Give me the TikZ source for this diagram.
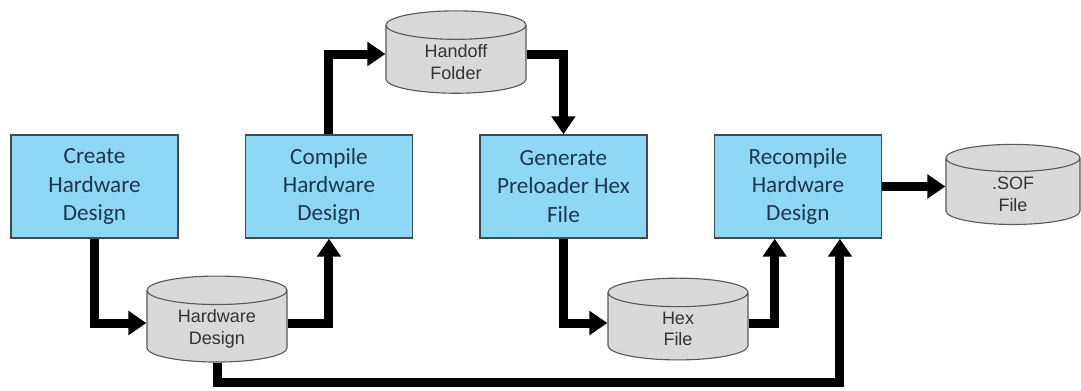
\documentclass[tikz,border=0pt]{standalone}
\usepackage{fontspec}
\setmainfont{Carlito}
\newfontfamily\cylfont{Liberation Sans}
\usepackage{tikz}
\usetikzlibrary{positioning,arrows.meta,shapes.geometric}
\definecolor{boxfill}{RGB}{142,216,246}
\definecolor{boxline}{RGB}{64,72,80}
\definecolor{boxtext}{RGB}{30,55,80}
\definecolor{cylfill}{RGB}{217,217,217}
\definecolor{cylline}{RGB}{90,90,90}
\definecolor{cyltext}{RGB}{51,51,51}

\begin{document}
\begin{tikzpicture}[
    x=0.025cm, y=-0.025cm,
    stepbox/.style={draw=boxline,line width=1pt,fill=boxfill,minimum width=4.175cm,minimum height=2.575cm,align=center,text=boxtext,font=\fontsize{16.5}{20}\selectfont},
    store/.style={cylinder,shape border rotate=90,shape aspect=0.22,draw=cylline,line width=0.8pt,fill=cylfill,text width=3cm,minimum width=3.5cm,minimum height=1.7cm,align=center,text=cyltext,font=\cylfont\fontsize{12.8}{15.4}\selectfont},
    arr/.style={-{Triangle[length=0.45cm,width=0.58cm]},line width=0.225cm}
  ]
    \useasboundingbox (0,0) rectangle (1081,390);

    % process steps
    \node[stepbox] (create) at (94.5,186.5) {Create\\Hardware\\Design};
    \node[stepbox, right=1.65cm of create] (compile) {Compile\\Hardware\\Design};
    \node[stepbox, right=1.65cm of compile] (generate) {Generate\\Preloader Hex\\File};
    \node[stepbox, right=1.65cm of generate] (recompile) {Recompile\\Hardware\\Design};

    % stored files
    \node[store] (hwdesign) at (217,329) {Hardware\\Design};
    \node[store] (handoff) at (456,62) {Handoff\\Folder};
    \node[store] (hexfile) at (678,329) {Hex\\File};
    \node[store, text width=2.85cm, minimum width=3.35cm] (sof) at (1013,194) {.SOF\\File};

    % Arrows
    \draw[arr] (create.south) |- ([yshift=0.15cm]hwdesign.west);
    \draw[arr] ([yshift=0.15cm]hwdesign.east) -| (compile.south);
    \draw[arr] (compile.north) |- ([yshift=0.2cm]handoff.west);
    \draw[arr] ([yshift=0.2cm]handoff.east) -| (generate.north);
    \draw[arr] (generate.south) |- ([yshift=0.15cm]hexfile.west);
    \draw[arr] ([yshift=0.15cm]hexfile.east) -| ([xshift=-0.58cm]recompile.south);
    \draw[arr] (hwdesign.south) -- ++(0,20) -| ([xshift=1.05cm]recompile.south);
    \draw[arr] (recompile.east) -- (recompile.east -| sof.west);
  \end{tikzpicture}
\end{document}
